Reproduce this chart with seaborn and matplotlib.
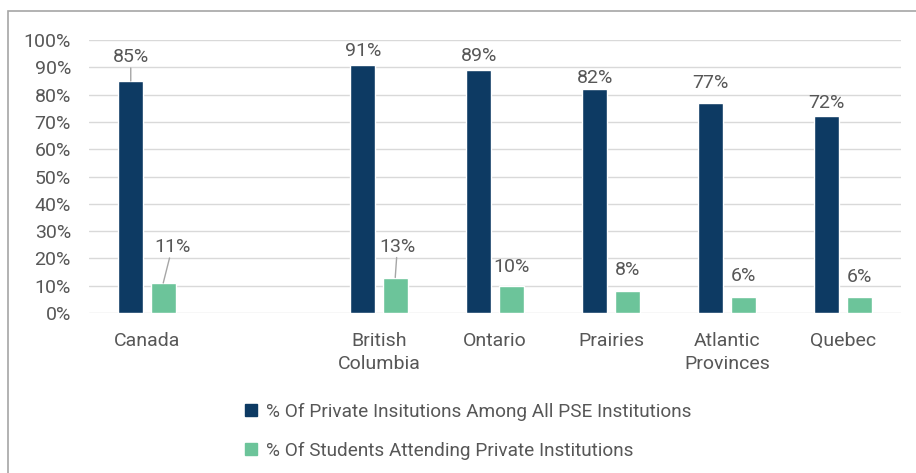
import matplotlib
matplotlib.use("Agg")
import matplotlib.pyplot as plt
from matplotlib.patches import Rectangle
from matplotlib.lines import Line2D
import seaborn as sns
import pandas as pd

# Data
regions = ["Canada", "British\nColumbia", "Ontario", "Prairies", "Atlantic\nProvinces", "Quebec"]
axis_order = ["Canada", " ", "British\nColumbia", "Ontario", "Prairies", "Atlantic\nProvinces", "Quebec"]
series_names = ["% Of Private Insitutions Among All PSE Institutions",
                "% Of Students Attending Private Institutions"]
pct_private_institutions = [85, 91, 89, 82, 77, 72]
pct_students_private = [11, 13, 10, 8, 6, 6]
y_ticks = [0, 10, 20, 30, 40, 50, 60, 70, 80, 90, 100]

colors = ["#0d3a63", "#6cc49a"]
text_color = "#575757"

df = pd.DataFrame({
    "region": regions * 2,
    "series": [series_names[0]] * len(regions) + [series_names[1]] * len(regions),
    "value": pct_private_institutions + pct_students_private,
})

sns.set_theme(style="white")
plt.rcParams["font.family"] = ["Roboto", "DejaVu Sans"]

fig = plt.figure(figsize=(9.16, 4.73), dpi=100)
ax = fig.add_axes([89 / 916, 1 - 313 / 473, (901 - 89) / 916, (313 - 40) / 473])

sns.barplot(data=df, x="region", y="value", hue="series", order=axis_order,
            hue_order=series_names, palette=colors, width=0.56, gap=0.23,
            saturation=1, legend=False, ax=ax)

ax.set_ylim(0, 100)
ax.set_xlim(-0.5, len(axis_order) - 0.5)
ax.set_yticks(y_ticks)
ax.set_yticklabels([f"{t}%" for t in y_ticks])
ax.set_xlabel("")
ax.set_ylabel("")
for s in ax.spines.values():
    s.set_visible(False)
ax.yaxis.grid(True, color="#d9d9d9", linewidth=1)
ax.set_axisbelow(True)
ax.tick_params(axis="y", length=0, pad=13, labelsize=14, labelcolor=text_color)
ax.tick_params(axis="x", length=0, pad=13.5, labelsize=14, labelcolor=text_color)
for lbl in ax.get_xticklabels():
    lbl.set_linespacing(1.35)

# Value labels: pixel offset above bar top, optional leader line, optional x shift
dark_offsets = {"Canada": 24, "British\nColumbia": 14, "Ontario": 14.5,
                "Prairies": 11, "Atlantic\nProvinces": 20, "Quebec": 13.5}
green_offsets = {"Canada": 36, "British\nColumbia": 31, "Ontario": 19,
                 "Prairies": 21, "Atlantic\nProvinces": 21, "Quebec": 20}
green_xshift = {"Canada": 9, "British\nColumbia": 2}
leader = {("d", "Canada"), ("g", "Canada"), ("g", "British\nColumbia")}

for cont, key, offsets in zip(ax.containers, ["d", "g"], [dark_offsets, green_offsets]):
    vals = pct_private_institutions if key == "d" else pct_students_private
    for bar, reg, v in zip(cont.patches, regions, vals):
        cx = bar.get_x() + bar.get_width() / 2
        top = bar.get_height()
        dy = offsets[reg]
        dx = green_xshift.get(reg, 0) if key == "g" else 0
        ax.annotate(f"{v}%", xy=(cx, top), xytext=(dx, dy), textcoords="offset pixels",
                    ha="center", va="center", fontsize=14, color=text_color)
        if (key, reg) in leader:
            ax.annotate("", xy=(cx, top), xytext=(dx * 0.7, dy - 11),
                        textcoords="offset pixels",
                        arrowprops=dict(arrowstyle="-", color="#a6a6a6", lw=1,
                                        shrinkA=0, shrinkB=0))

# Legend below the plot
handles = [Line2D([], [], marker="s", linestyle="none", markersize=8,
                  markerfacecolor=c, markeredgecolor=c) for c in colors]
fig.legend(handles, series_names, loc="center", bbox_to_anchor=(468 / 916, 1 - 431 / 473),
           ncol=1, frameon=False, fontsize=13.7, labelcolor=text_color,
           handletextpad=0.4, handlelength=0.7, labelspacing=1.1)

# Outer frame
fig.patches.append(Rectangle((8 / 916, -0.2), 1.2, 1.2 - 11 / 473,
                             transform=fig.transFigure, fill=False,
                             edgecolor="#a6a6a6", linewidth=1.2))

fig.savefig("out.png", dpi=100, facecolor="white")
